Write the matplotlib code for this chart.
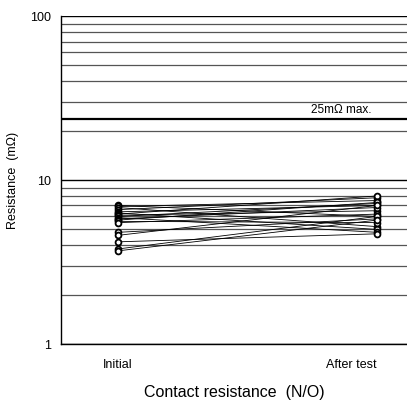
import numpy as np
import matplotlib
matplotlib.use('Agg')
from matplotlib import pyplot as plt

# resistance readings (mOhm), one pair per sample
initial = [7.0, 6.9, 6.8, 6.6, 6.4, 6.3, 6.2, 6.1, 6.0, 5.9, 5.8, 5.7, 5.6, 5.5, 4.8, 4.6, 4.2, 3.8, 3.7]
after_test = [6.0, 7.5, 5.2, 7.8, 7.0, 5.0, 8.0, 6.5, 7.2, 4.8, 6.8, 7.3, 5.5, 6.2, 5.8, 7.0, 4.7, 6.0, 5.7]
stage_labels = ['Initial', 'After test']
limit_value = 23.5
limit_text = '25m\u03a9 max.'
major_lines = [1, 10, 100]
minor_lines = [m * d for d in (1, 10) for m in range(2, 10)]

plt.rcParams['font.family'] = ['Liberation Sans', 'DejaVu Sans']

fig = plt.figure(figsize=(4.07, 4.03), dpi=100)
ax = fig.add_axes([0.150, 0.1464, 0.85, 0.8136])
ax.set_yscale('log')
ax.set_ylim(1, 100)
ax.set_xlim(-0.22, 1.116)

for v in minor_lines:
    ax.axhline(v, color='#555555', linewidth=0.9, zorder=1)
for v in major_lines:
    ax.axhline(v, color='black', linewidth=1.0, zorder=1)
ax.axhline(limit_value, color='black', linewidth=1.6, zorder=1)
ax.text(0.81, limit_value * 1.04, limit_text, transform=ax.get_yaxis_transform(),
        ha='center', va='bottom', fontsize=8.5)

for a, b in zip(initial, after_test):
    ax.plot([0, 1], [a, b], color='black', linewidth=0.6, zorder=2)
ax.plot(np.zeros(len(initial)), initial, 'o', mfc='white', mec='black', ms=4.2, mew=1.3, zorder=3)
ax.plot(np.ones(len(after_test)), after_test, 'o', mfc='white', mec='black', ms=4.2, mew=1.3, zorder=3)

ax.spines['top'].set_visible(False)
ax.spines['right'].set_visible(False)
ax.spines['left'].set_linewidth(1.0)
ax.spines['bottom'].set_linewidth(1.0)

ax.set_yticks(major_lines)
ax.set_yticklabels(['1', '10', '100'])
ax.yaxis.set_minor_locator(matplotlib.ticker.NullLocator())
ax.set_xticks([0, 0.9])
ax.set_xticklabels(stage_labels)
ax.tick_params(axis='both', length=0, labelsize=9, colors='black')
ax.tick_params(axis='y', pad=7)
ax.tick_params(axis='x', pad=11)

ax.set_ylabel('Resistance  (m\u03a9)', fontsize=9, labelpad=8)
ax.set_xlabel('Contact resistance  (N/O)', fontsize=11.5, labelpad=10)

fig.savefig('out.png', dpi=100)
